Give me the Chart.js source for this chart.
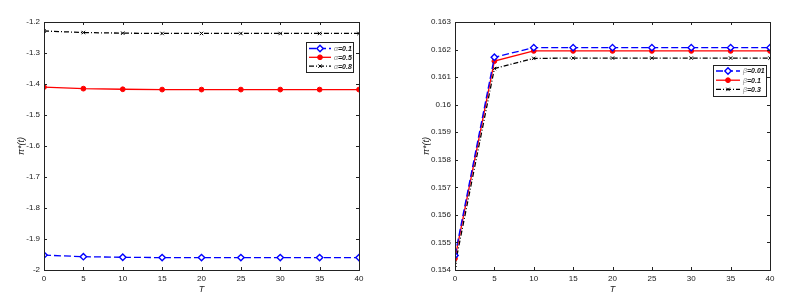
<!DOCTYPE html>
<html><head><meta charset="utf-8">
<script src="https://cdn.jsdelivr.net/npm/chart.js@4.4.0/dist/chart.umd.min.js"></script>
<style>
html,body{margin:0;padding:0;background:#fff;}
canvas{position:absolute;top:0;}
#c1{left:0;}
#c2{left:400px;}
</style></head><body>
<canvas id="c1" width="400" height="304"></canvas>
<canvas id="c2" width="404" height="304"></canvas>
<script>
// ---- data ----
const T = [0, 5, 10, 15, 20, 25, 30, 35, 40];
const xTicks = [0, 5, 10, 15, 20, 25, 30, 35, 40];

// left panel: alpha
const alphaLabels = ['0.1', '0.5', '0.8'];
const alpha01 = [-1.952, -1.957, -1.959, -1.960, -1.960, -1.960, -1.960, -1.960, -1.960];
const alpha05 = [-1.410, -1.415, -1.417, -1.418, -1.418, -1.418, -1.418, -1.418, -1.418];
const alpha08 = [-1.229, -1.234, -1.236, -1.237, -1.237, -1.237, -1.237, -1.237, -1.237];
const yTicksLeft = [-2, -1.9, -1.8, -1.7, -1.6, -1.5, -1.4, -1.3, -1.2];
const yTickLabelsLeft = ['-2', '-1.9', '-1.8', '-1.7', '-1.6', '-1.5', '-1.4', '-1.3', '-1.2'];

// right panel: beta
const betaLabels = ['0.01', '0.1', '0.3'];
const beta001 = [0.15453, 0.16172, 0.16207, 0.16207, 0.16207, 0.16207, 0.16207, 0.16207, 0.16207];
const beta01  = [0.15442, 0.16158, 0.16195, 0.16195, 0.16195, 0.16195, 0.16195, 0.16195, 0.16195];
const beta03  = [0.15418, 0.16131, 0.16168, 0.16169, 0.16169, 0.16169, 0.16169, 0.16169, 0.16169];
const yTicksRight = [0.154, 0.155, 0.156, 0.157, 0.158, 0.159, 0.16, 0.161, 0.162, 0.163];
const yTickLabelsRight = ['0.154', '0.155', '0.156', '0.157', '0.158', '0.159', '0.16', '0.161', '0.162', '0.163'];

const FONT = 'Liberation Sans, Arial, Helvetica, sans-serif';

function pts(ys) { return T.map((t, i) => ({x: t, y: ys[i]})); }

const styles = [
  {borderColor: '#0000ff', borderDash: [7, 3], pointStyle: 'rectRot', pointRadius: 3.2, pointBackgroundColor: '#ffffff', pointBorderColor: '#0000ff', pointBorderWidth: 1.4},
  {borderColor: '#ff0000', borderDash: [], pointStyle: 'circle', pointRadius: 2.4, pointBackgroundColor: '#ff0000', pointBorderColor: '#ff0000', pointBorderWidth: 1},
  {borderColor: '#000000', borderDash: [5, 2, 1, 2], pointStyle: 'crossRot', pointRadius: 2.4, pointBackgroundColor: '#000000', pointBorderColor: '#000000', pointBorderWidth: 1},
];

function makeDatasets(series, greek, labels) {
  return series.map((s, i) => Object.assign({
    label: greek + '=' + labels[i],
    data: pts(s),
    borderWidth: 1.3,
    fill: false,
    tension: 0,
    greek: greek, valueText: '=' + labels[i],
  }, styles[i]));
}

const framePlugin = {
  id: 'frame',
  afterDatasetsDraw(chart) {
    const {ctx, chartArea: a, scales} = chart;
    ctx.save();
    ctx.strokeStyle = '#222';
    ctx.lineWidth = 1;
    ctx.setLineDash([]);
    ctx.strokeRect(a.left + 0.5, a.top + 0.5, a.right - a.left, a.bottom - a.top);
    const L = 3;
    scales.x.ticks.forEach(t => {
      const px = Math.round(scales.x.getPixelForValue(t.value)) + 0.5;
      ctx.beginPath();
      ctx.moveTo(px, a.bottom); ctx.lineTo(px, a.bottom - L);
      ctx.moveTo(px, a.top); ctx.lineTo(px, a.top + L);
      ctx.stroke();
    });
    scales.y.ticks.forEach(t => {
      const py = Math.round(scales.y.getPixelForValue(t.value)) + 0.5;
      ctx.beginPath();
      ctx.moveTo(a.left, py); ctx.lineTo(a.left + L, py);
      ctx.moveTo(a.right, py); ctx.lineTo(a.right - L, py);
      ctx.stroke();
    });
    ctx.restore();
  }
};

const legendPlugin = {
  id: 'boxLegend',
  afterDraw(chart, args, opts) {
    const {ctx} = chart;
    const b = opts.box;
    ctx.save();
    ctx.fillStyle = '#fff';
    ctx.fillRect(b.x, b.y, b.w, b.h);
    ctx.strokeStyle = '#222';
    ctx.lineWidth = 1;
    ctx.setLineDash([]);
    ctx.strokeRect(b.x + 0.5, b.y + 0.5, b.w, b.h);
    chart.data.datasets.forEach((ds, i) => {
      const y = b.y + opts.firstRow + i * opts.rowGap;
      const x0 = b.x + 3, x1 = b.x + 3 + opts.lineLen;
      ctx.strokeStyle = ds.borderColor;
      ctx.lineWidth = ds.borderWidth;
      ctx.setLineDash(ds.borderDash);
      ctx.beginPath(); ctx.moveTo(x0, y); ctx.lineTo(x1, y); ctx.stroke();
      ctx.setLineDash([]);
      ctx.lineWidth = ds.pointBorderWidth;
      ctx.strokeStyle = ds.pointBorderColor;
      ctx.fillStyle = ds.pointBackgroundColor;
      Chart.helpers.drawPoint(ctx, {pointStyle: ds.pointStyle, radius: ds.pointRadius, borderWidth: ds.pointBorderWidth, rotation: 0}, (x0 + x1) / 2, y);
      let tx = x1 + 3;
      ctx.textBaseline = 'middle';
      ctx.textAlign = 'left';
      ctx.font = 'italic 7px ' + FONT;
      ctx.fillStyle = '#888';
      ctx.fillText(ds.greek, tx, y + 0.5);
      tx += ctx.measureText(ds.greek).width;
      ctx.font = 'italic bold 7px ' + FONT;
      ctx.fillStyle = '#111';
      ctx.fillText(ds.valueText, tx, y + 0.5);
    });
    ctx.restore();
  }
};

function makeChart(id, datasets, yMin, yMax, yTickVals, yTickLabels, axisW, padRight, yTitlePad, legendOpts) {
  return new Chart(document.getElementById(id), {
    type: 'line',
    data: {datasets},
    options: {
      responsive: false,
      animation: false,
      devicePixelRatio: 1,
      layout: {padding: {top: 22, left: 0, right: padRight, bottom: 0}},
      plugins: {legend: {display: false}, tooltip: {enabled: false}, boxLegend: legendOpts},
      scales: {
        x: {
          type: 'linear', min: 0, max: 40,
          grid: {display: false, drawTicks: false},
          border: {display: false},
          afterBuildTicks: s => { s.ticks = xTicks.map(v => ({value: v})); },
          afterFit: s => { s.height = 34; },
          ticks: {
            padding: 4, maxRotation: 0, autoSkip: false,
            color: '#1a1a1a', font: {family: FONT, size: 8},
            callback: v => String(v)
          },
          title: {display: true, text: 'T', color: '#222', font: {family: FONT, size: 9, style: 'italic'}, padding: {top: 0, bottom: 9}}
        },
        y: {
          type: 'linear', min: yMin, max: yMax,
          grid: {display: false, drawTicks: false},
          border: {display: false},
          afterBuildTicks: s => { s.ticks = yTickVals.map(v => ({value: v})); },
          afterFit: s => { s.width = axisW; },
          ticks: {
            padding: 4, autoSkip: false,
            color: '#1a1a1a', font: {family: FONT, size: 8},
            callback: function(v) { const i = yTickVals.findIndex(t => Math.abs(t - v) < 1e-9); return i >= 0 ? yTickLabels[i] : ''; }
          },
          title: {display: true, text: 'π*(t)', color: '#222', font: {family: FONT, size: 9, style: 'italic'}, padding: {top: yTitlePad, bottom: 0}}
        }
      }
    },
    plugins: [framePlugin, legendPlugin]
  });
}

makeChart('c1', makeDatasets([alpha01, alpha05, alpha08], 'α', alphaLabels),
  -2, -1.2, yTicksLeft, yTickLabelsLeft, 44, 41, 16,
  {box: {x: 306, y: 42, w: 47, h: 30}, firstRow: 6.5, rowGap: 8.8, lineLen: 22});

makeChart('c2', makeDatasets([beta001, beta01, beta03], 'β', betaLabels),
  0.154, 0.163, yTicksRight, yTickLabelsRight, 55, 34, 21,
  {box: {x: 313, y: 65, w: 53, h: 31}, firstRow: 6, rowGap: 9.2, lineLen: 24});
</script>
</body></html>
